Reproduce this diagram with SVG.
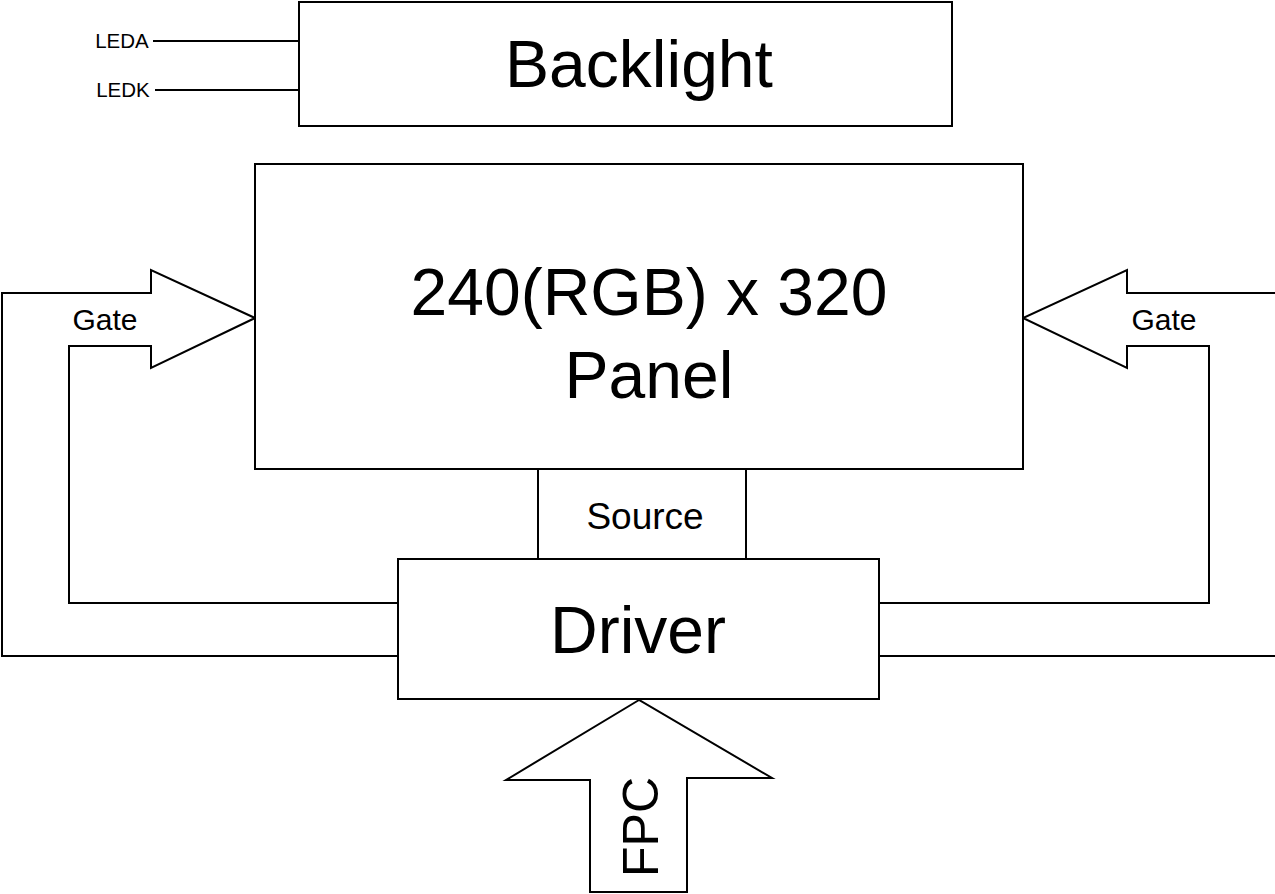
<svg xmlns="http://www.w3.org/2000/svg" width="1275" height="894" viewBox="0 0 1275 894">
<style>
.s{fill:#fff;stroke:#000;stroke-width:2}
.l{fill:none;stroke:#000;stroke-width:2}
.t{font-family:"Liberation Sans",Arial,sans-serif;fill:#000;text-anchor:middle}
</style>
<rect width="1275" height="894" fill="#fff"/>
<g id="connectors">
<line class="l" x1="153" y1="41" x2="299" y2="41"/>
<line class="l" x1="155" y1="90" x2="299" y2="90"/>
<polygon class="s" points="2,656 2,293 151,293 151,270 255,318 151,368 151,346 69,346 69,603 400,603 400,656"/>
<polygon class="s" points="1285,656 1285,293 1127,293 1127,270 1023,318 1127,368 1127,346 1209,346 1209,603 878,603 878,656"/>
<polygon class="s" points="639,700 506,780 590,780 590,892 687,892 687,778 772,778"/>
<text class="t" x="105" y="330" font-size="30">Gate</text>
<text class="t" x="1164" y="330" font-size="30">Gate</text>
<text class="t" transform="translate(658,827) rotate(-90)" font-size="50">FPC</text>
<text class="t" x="122" y="48" font-size="20.5">LEDA</text>
<text class="t" x="123" y="97" font-size="20.5">LEDK</text>
</g>
<g id="backlight">
<rect class="s" x="299" y="2" width="653" height="124"/>
<text class="t" x="639" y="87" font-size="66">Backlight</text>
</g>
<g id="panel">
<rect class="s" x="255" y="164" width="768" height="305"/>
<text class="t" x="649" y="315" font-size="66">240(RGB) x 320</text>
<text class="t" x="649" y="398" font-size="66">Panel</text>
</g>
<g id="source">
<rect class="s" x="538" y="469" width="208" height="90"/>
<text class="t" x="645" y="529" font-size="37">Source</text>
</g>
<g id="driver">
<rect class="s" x="398" y="559" width="481" height="140"/>
<text class="t" x="638" y="653" font-size="66">Driver</text>
</g>
</svg>
